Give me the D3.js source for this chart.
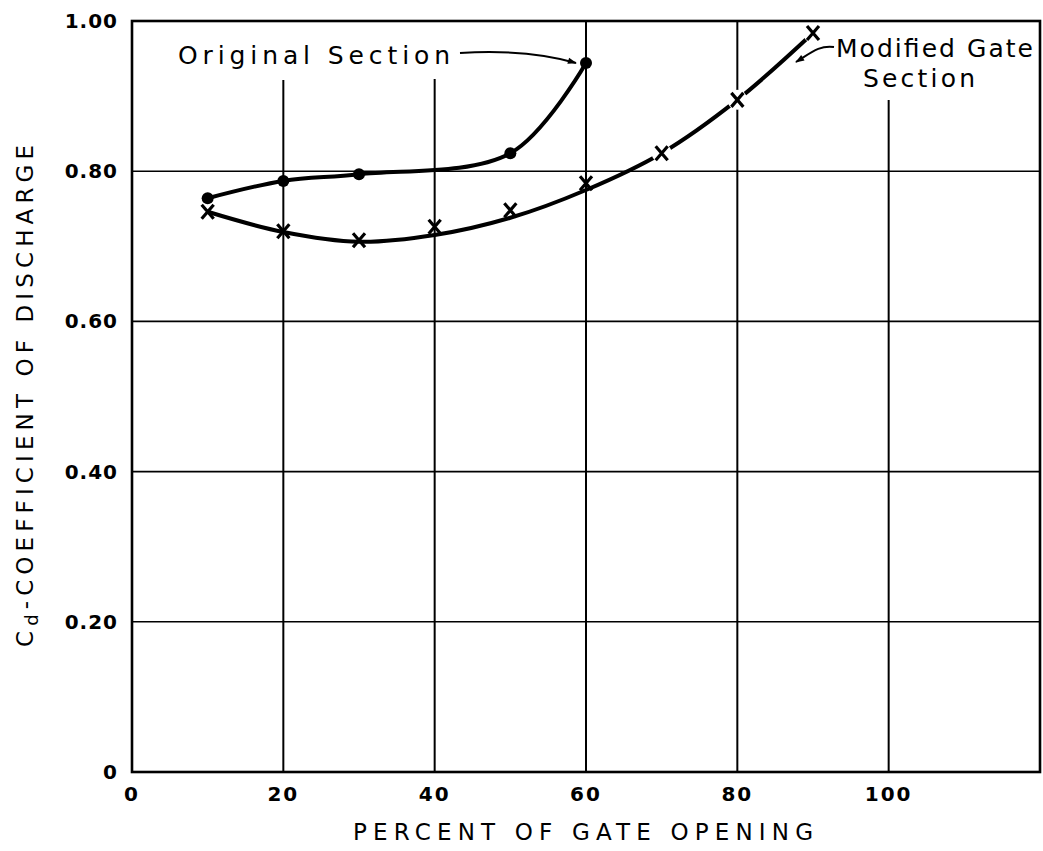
<!DOCTYPE html>
<html>
<head>
<meta charset="utf-8">
<script src="https://cdn.jsdelivr.net/npm/d3@7"></script>
<style>
  html, body { margin: 0; padding: 0; background: #fff; }
  svg { display: block; }
  text { font-family: "DejaVu Sans", "Liberation Sans", sans-serif; fill: #000; }
</style>
</head>
<body>
<div id="chart"></div>
<script>
// Gate opening (%) and discharge coefficient
const originalGate = [10, 20, 30, 50, 60];
const originalCd = [0.764, 0.787, 0.796, 0.824, 0.944];

const modifiedGate = [10, 20, 30, 40, 50, 60, 70, 80, 90];
const modifiedCd = [0.746, 0.72, 0.708, 0.726, 0.748, 0.784, 0.824, 0.895, 0.984];
// hand-faired curve through the modified points
const modifiedFitCd = [0.746, 0.719, 0.706, 0.715, 0.738, 0.775, 0.824, 0.895, 0.984];

const xTicks = [0, 20, 40, 60, 80, 100];
const yTicks = [0, 0.2, 0.4, 0.6, 0.8, 1.0];
const yTickLabels = ["0", "0.20", "0.40", "0.60", "0.80", "1.00"];

const width = 1043, height = 851;
const margin = { top: 21, right: 1, bottom: 79, left: 132 };

const svg = d3.select("#chart").append("svg")
  .attr("width", width)
  .attr("height", height);

const x = d3.scaleLinear().domain([0, 120]).range([margin.left, width - margin.right - 2]);
const y = d3.scaleLinear().domain([0, 1]).range([height - margin.bottom, margin.top]);

const g = svg.append("g");

// Grid (vertical lines leave room for the labels at the top)
const gridTop = { 20: 80, 40: 79, 60: 21, 80: 21, 100: 100 };
g.selectAll("line.vgrid")
  .data(xTicks.filter((d) => d > 0))
  .enter().append("line")
  .attr("class", "vgrid")
  .attr("x1", (d) => x(d)).attr("x2", (d) => x(d))
  .attr("y1", (d) => gridTop[d]).attr("y2", y(0))
  .attr("stroke", "#000").attr("stroke-width", 2);

g.selectAll("line.hgrid")
  .data(yTicks.filter((d) => d > 0 && d < 1))
  .enter().append("line")
  .attr("class", "hgrid")
  .attr("x1", x(0)).attr("x2", x(120))
  .attr("y1", (d) => y(d)).attr("y2", (d) => y(d))
  .attr("stroke", "#000").attr("stroke-width", 1.6);

// Frame
g.append("rect")
  .attr("x", x(0)).attr("y", y(1))
  .attr("width", x(120) - x(0)).attr("height", y(0) - y(1))
  .attr("fill", "none").attr("stroke", "#000").attr("stroke-width", 2.6);

// Tick labels
g.selectAll("text.ylab")
  .data(yTicks)
  .enter().append("text")
  .attr("class", "ylab")
  .attr("x", x(0) - 14)
  .attr("y", (d) => y(d))
  .attr("dy", "0.35em")
  .attr("text-anchor", "end")
  .attr("font-size", 20)
  .attr("font-weight", "bold")
  .attr("letter-spacing", 1)
  .text((d, i) => yTickLabels[i]);

g.selectAll("text.xlab")
  .data(xTicks)
  .enter().append("text")
  .attr("class", "xlab")
  .attr("x", (d) => x(d))
  .attr("y", y(0) + 29)
  .attr("text-anchor", "middle")
  .attr("font-size", 20)
  .attr("font-weight", "bold")
  .attr("letter-spacing", 2)
  .text((d) => d);

// Axis titles
svg.append("text")
  .attr("x", 583).attr("y", 840)
  .attr("text-anchor", "middle")
  .attr("font-size", 23)
  .attr("textLength", 460).attr("lengthAdjust", "spacing")
  .text("PERCENT OF GATE OPENING");

const yTitle = svg.append("text")
  .attr("transform", "translate(33,396) rotate(-90)")
  .attr("text-anchor", "middle")
  .attr("font-size", 23);
yTitle.append("tspan").text("C");
yTitle.append("tspan").attr("font-size", 18).attr("dy", 5).text("d");
yTitle.append("tspan").attr("dy", -5).text("-COEFFICIENT OF DISCHARGE");
yTitle.attr("textLength", 502).attr("lengthAdjust", "spacing");

// Curves
const originalLine = d3.line()
  .x((d) => x(d[0])).y((d) => y(d[1]))
  .curve(d3.curveCatmullRom.alpha(0.5));

g.append("path")
  .datum(originalGate.map((d, i) => [d, originalCd[i]]))
  .attr("d", originalLine)
  .attr("fill", "none").attr("stroke", "#000").attr("stroke-width", 4);

g.append("path")
  .datum(modifiedGate.map((d, i) => [d, modifiedFitCd[i]]))
  .attr("d", originalLine)
  .attr("fill", "none").attr("stroke", "#000").attr("stroke-width", 4);

// Points: dots for the original section
g.selectAll("circle.orig")
  .data(originalGate.map((d, i) => [d, originalCd[i]]))
  .enter().append("circle")
  .attr("class", "orig")
  .attr("cx", (d) => x(d[0])).attr("cy", (d) => y(d[1]))
  .attr("r", 6).attr("fill", "#000");

// Points: crosses for the modified gate section
const cross = g.selectAll("g.mod")
  .data(modifiedGate.map((d, i) => [d, modifiedCd[i]]))
  .enter().append("g")
  .attr("class", "mod")
  .attr("transform", (d) => `translate(${x(d[0])},${y(d[1])})`);
cross.filter((d) => d[0] >= 70).append("circle")
  .attr("r", 10).attr("fill", "#fff");
cross.append("path")
  .attr("d", "M-6,-7L6,7M6,-7L-6,7")
  .attr("stroke", "#000").attr("stroke-width", 3.2).attr("fill", "none");

// Annotations
svg.append("defs").append("marker")
  .attr("id", "arrow")
  .attr("viewBox", "0 0 10 10")
  .attr("refX", 9).attr("refY", 5)
  .attr("markerWidth", 10).attr("markerHeight", 6)
  .attr("orient", "auto")
  .attr("markerUnits", "userSpaceOnUse")
  .append("path").attr("d", "M0,1.5L10,5L0,8.5Z").attr("fill", "#000");

svg.select("marker").attr("markerWidth", 18).attr("markerHeight", 9);

svg.append("text")
  .attr("x", 178).attr("y", 64)
  .attr("font-size", 25)
  .attr("textLength", 272).attr("lengthAdjust", "spacing")
  .text("Original Section");

svg.append("path")
  .attr("d", `M460,53 C510,50 545,54 ${x(60) - 10},${y(0.944)}`)
  .attr("fill", "none").attr("stroke", "#000").attr("stroke-width", 2)
  .attr("marker-end", "url(#arrow)");

svg.append("text")
  .attr("x", 836).attr("y", 57)
  .attr("font-size", 25)
  .attr("textLength", 197).attr("lengthAdjust", "spacing")
  .text("Modified Gate");

svg.append("text")
  .attr("x", 863).attr("y", 87)
  .attr("font-size", 25)
  .attr("textLength", 112).attr("lengthAdjust", "spacing")
  .text("Section");

svg.append("path")
  .attr("d", "M834,47 C820,45 812,52 796,62")
  .attr("fill", "none").attr("stroke", "#000").attr("stroke-width", 2)
  .attr("marker-end", "url(#arrow)");
</script>
</body>
</html>
